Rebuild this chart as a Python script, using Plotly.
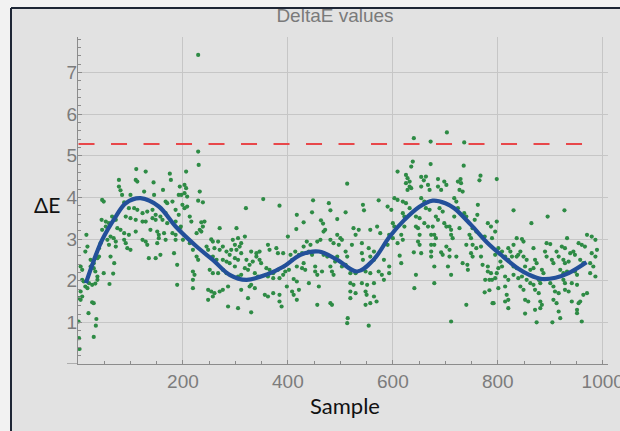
import plotly.graph_objects as go

# DeltaE readings (sample number, DeltaE), grouped by sample range
pts_0_190 = [(111,4.68),(129,4.62),(110,4.42),(113,4.38),(78,4.42),(78,4.26),(81,4.17),(144,4.36),(175,4.57),(177,4.42),(162,4.18),(46,3.94),(49,3.90),(84,4.06),(100,4.06),(126,4.14),(145,4.06),(167,3.90),(170,3.86),(192,4.06),(180,3.90),(88,3.88),(97,3.74),(107,3.74),(113,3.70),(123,3.62),(132,3.66),(142,3.70),(148,3.58),(157,3.54),(167,3.62),(186,3.70),(192,3.58),(45,3.46),(53,3.42),(59,3.38),(65,3.54),(72,3.46),(91,3.54),(100,3.50),(110,3.46),(123,3.42),(129,3.42),(142,3.50),(148,3.46),(161,3.46),(170,3.38),(186,3.42),(196,3.30),(53,3.30),(46,3.22),(75,3.26),(81,3.22),(88,3.14),(97,3.10),(110,3.18),(138,3.22),(151,3.18),(154,3.10),(164,3.14),(180,3.14),(186,3.10),(16,3.10),(62,3.06),(68,3.02),(72,2.94),(56,2.98),(88,2.98),(91,2.90),(123,2.98),(129,2.94),(132,2.86),(94,2.78),(100,2.74),(154,3.02),(151,2.90),(167,2.98),(186,2.98),(43,2.90),(40,2.78),(18,2.82),(14,2.70),(72,2.82),(59,2.86),(183,2.66),(135,2.54),(148,2.54),(157,2.62),(189,2.38),(40,2.58),(62,2.58),(24,2.50),(30,2.42),(37,2.54),(69,2.42),(5,2.34),(8,2.26),(24,2.34),(30,2.30),(49,2.18),(67,2.17),(33,2.22),(37,2.10),(8,2.02),(11,1.98),(21,1.94),(27,1.90),(33,1.93),(37,2.02),(60,1.92),(14,1.86),(18,1.82),(5,1.74),(2,1.58),(5,1.54),(8,1.62),(27,1.48),(30,1.46),(20,1.22),(35,1.08),(34,0.92),(1,1.02),(2,0.62),(3,0.36),(30,0.65),(189,1.90)]

pts_190_395 = [(229,7.42),(229,5.10),(230,4.78),(206,4.62),(194,4.26),(203,4.30),(206,4.22),(197,4.06),(203,4.10),(208,4.02),(199,3.82),(203,3.74),(208,3.78),(232,4.14),(229,3.92),(238,3.88),(353,3.96),(320,3.74),(384,3.80),(213,3.54),(216,3.42),(235,3.40),(238,3.30),(232,3.22),(241,3.42),(226,3.14),(235,3.18),(270,3.26),(302,3.26),(254,2.99),(257,2.94),(267,2.94),(295,2.98),(305,3.02),(318,3.06),(311,2.90),(299,2.86),(308,2.82),(213,2.90),(219,2.74),(245,2.82),(248,2.74),(260,2.78),(270,2.74),(276,2.82),(283,2.70),(289,2.62),(292,2.74),(302,2.74),(311,2.66),(330,2.70),(340,2.66),(346,2.70),(362,2.86),(365,2.74),(378,2.78),(381,2.66),(391,2.66),(226,2.58),(229,2.50),(257,2.58),(264,2.50),(276,2.50),(283,2.46),(289,2.42),(299,2.54),(305,2.50),(299,2.34),(321,2.50),(327,2.38),(333,2.46),(340,2.58),(346,2.50),(349,2.42),(359,2.30),(365,2.26),(372,2.18),(381,2.26),(318,2.30),(324,2.26),(251,2.26),(257,2.18),(267,2.18),(276,2.26),(283,2.18),(219,2.22),(222,2.14),(219,2.02),(305,2.10),(311,2.14),(337,2.18),(343,2.10),(362,2.10),(372,2.06),(384,2.06),(391,2.14),(219,1.82),(248,1.78),(254,1.74),(260,1.70),(270,1.74),(276,1.78),(286,1.86),(311,1.78),(327,1.86),(330,1.90),(337,1.82),(356,1.66),(362,1.62),(372,1.70),(384,1.66),(248,1.54),(257,1.62),(286,1.38),(305,1.34),(324,1.58),(330,1.24),(384,1.50),(388,1.38),(194,3.26),(200,2.98)]

pts_390_590 = [(513,4.33),(448,3.93),(478,3.86),(543,3.82),(545,3.69),(573,3.93),(417,3.58),(446,3.64),(481,3.69),(510,3.64),(494,3.48),(430,3.40),(416,3.24),(463,3.45),(467,3.37),(471,3.22),(468,3.18),(525,3.26),(535,3.22),(557,3.22),(570,3.30),(576,3.14),(400,3.06),(494,3.10),(500,3.02),(529,3.10),(436,2.94),(443,2.86),(430,2.82),(456,2.94),(462,2.98),(481,2.98),(487,2.90),(497,2.86),(503,2.98),(522,2.86),(541,2.90),(554,2.78),(564,2.70),(414,2.70),(421,2.62),(427,2.66),(405,2.62),(408,2.50),(440,2.70),(446,2.62),(468,2.62),(475,2.58),(494,2.58),(490,2.46),(510,2.70),(513,2.58),(541,2.66),(543,2.50),(557,2.58),(564,2.50),(583,2.50),(392,2.34),(395,2.22),(402,2.26),(417,2.34),(427,2.30),(433,2.26),(430,2.42),(452,2.34),(452,2.22),(456,2.14),(465,2.22),(481,2.34),(484,2.22),(487,2.14),(503,2.34),(510,2.38),(519,2.18),(529,2.18),(548,2.22),(557,2.18),(573,2.22),(579,2.14),(583,2.02),(411,2.04),(417,1.98),(440,1.94),(519,1.94),(525,1.90),(541,1.94),(551,1.90),(564,1.94),(398,1.86),(408,1.74),(411,1.66),(421,1.78),(459,1.86),(519,1.74),(529,1.70),(548,1.74),(550,1.66),(564,1.62),(569,1.50),(417,1.54),(456,1.42),(481,1.46),(484,1.42),(519,1.58),(548,1.42),(557,1.46),(514,1.10),(513,0.98),(554,0.92)]

pts_590_790 = [(640,5.42),(703,5.56),(672,5.34),(736,5.32),(638,4.86),(635,4.74),(672,4.80),(735,4.76),(609,4.62),(625,4.54),(628,4.46),(632,4.38),(625,4.34),(654,4.49),(659,4.41),(663,4.50),(686,4.44),(698,4.38),(702,4.30),(724,4.38),(729,4.44),(730,4.34),(767,4.52),(765,4.41),(632,4.26),(635,4.22),(628,4.18),(654,4.26),(667,4.30),(670,4.18),(686,4.26),(692,4.18),(727,4.18),(733,4.14),(603,3.98),(609,3.94),(619,3.90),(625,3.86),(654,3.98),(660,3.90),(717,3.98),(721,3.90),(590,3.78),(597,3.70),(632,3.74),(663,3.74),(670,3.70),(689,3.74),(695,3.66),(724,3.74),(762,3.82),(619,3.62),(622,3.54),(644,3.54),(651,3.50),(682,3.54),(686,3.46),(717,3.54),(736,3.62),(740,3.54),(756,3.46),(761,3.58),(600,3.38),(603,3.30),(622,3.30),(644,3.30),(648,3.26),(660,3.38),(667,3.30),(676,3.30),(698,3.38),(702,3.30),(708,3.30),(711,3.22),(727,3.26),(752,3.26),(759,3.18),(781,3.38),(787,3.30),(593,3.10),(600,3.02),(616,3.10),(619,2.98),(651,3.10),(673,3.10),(679,3.10),(682,3.02),(711,3.10),(714,3.02),(746,3.10),(749,3.02),(775,3.06),(590,2.86),(609,2.90),(648,2.94),(651,2.86),(673,2.86),(679,2.86),(702,2.82),(708,2.74),(740,2.86),(752,2.86),(759,2.78),(768,2.82),(640,2.68),(654,2.66),(673,2.70),(692,2.68),(695,2.62),(708,2.58),(721,2.58),(749,2.66),(752,2.58),(613,2.60),(679,2.34),(673,2.58),(733,2.42),(742,2.38),(743,2.26),(705,2.34),(768,2.58),(771,2.38),(781,2.34),(781,2.22),(787,2.18),(616,2.42),(593,2.34),(593,2.18),(644,2.14),(711,2.14),(776,2.02),(784,2.02),(679,1.94),(641,1.82),(775,1.72),(784,1.77),(790,1.46),(740,1.42),(711,1.02)]

pts_790_990 = [(798,4.44),(830,3.69),(864,3.38),(895,3.54),(927,3.69),(798,3.42),(795,3.18),(789,3.02),(836,3.02),(846,3.00),(830,2.86),(849,2.94),(932,3.02),(970,3.10),(979,3.06),(986,2.98),(893,2.90),(900,2.88),(922,2.82),(928,2.78),(954,2.90),(960,2.86),(966,2.82),(868,2.78),(801,2.78),(808,2.70),(820,2.78),(824,2.70),(843,2.70),(890,2.70),(893,2.58),(912,2.70),(916,2.58),(938,2.66),(944,2.70),(947,2.62),(979,2.66),(986,2.58),(989,2.74),(795,2.62),(814,2.58),(820,2.50),(827,2.58),(836,2.58),(839,2.62),(849,2.58),(855,2.50),(871,2.50),(874,2.42),(903,2.50),(906,2.42),(925,2.50),(928,2.42),(935,2.46),(957,2.50),(963,2.42),(976,2.42),(982,2.34),(805,2.46),(808,2.34),(801,2.30),(830,2.34),(836,2.30),(852,2.34),(862,2.26),(868,2.30),(884,2.26),(887,2.18),(919,2.26),(925,2.18),(932,2.22),(947,2.22),(951,2.14),(976,2.18),(986,2.10),(789,2.02),(795,2.06),(798,2.18),(814,2.10),(820,2.02),(830,2.14),(839,2.06),(846,2.10),(855,2.02),(862,1.94),(868,1.90),(878,2.02),(881,1.94),(900,1.94),(906,1.86),(925,2.02),(928,1.94),(941,1.94),(951,1.90),(801,1.82),(814,1.86),(843,1.86),(849,1.78),(871,1.78),(878,1.70),(909,1.74),(916,1.70),(928,1.78),(935,1.74),(963,1.66),(970,1.70),(817,1.66),(820,1.54),(814,1.50),(852,1.54),(858,1.50),(881,1.50),(884,1.42),(906,1.54),(912,1.46),(941,1.50),(954,1.46),(957,1.50),(792,1.46),(820,1.34),(871,1.30),(881,1.34),(916,1.26),(919,1.10),(951,1.30),(951,1.22),(852,1.21),(874,1.00),(904,1.00),(960,1.02)]

# smoothed trend through the readings
trend_x = [15, 30, 46, 72, 91, 119, 154, 186, 226, 257, 289, 321, 360, 392, 424, 459, 494, 532, 563, 594, 622, 650, 676, 700, 717, 749, 781, 810, 840, 860, 884, 910, 935, 969]
trend_y = [1.94, 2.48, 2.98, 3.54, 3.86, 3.98, 3.78, 3.30, 2.82, 2.50, 2.14, 2.02, 2.15, 2.34, 2.62, 2.70, 2.50, 2.22, 2.50, 3.06, 3.46, 3.77, 3.92, 3.86, 3.74, 3.34, 2.90, 2.58, 2.28, 2.14, 2.04, 2.07, 2.18, 2.44]

# tolerance threshold
limit_value = 5.28
limit_span = [1, 985]

x_ticks = [200, 400, 600, 800, 1000]
y_ticks = [1, 2, 3, 4, 5, 6, 7]

points = pts_0_190 + pts_190_395 + pts_390_590 + pts_590_790 + pts_790_990
sample_no = [p[0] for p in points]
delta_e = [p[1] for p in points]

BG = "#e2e2e2"
GRID = "#c6c6c6"
AXIS = "#8c8c8c"
LABEL = "#7c7c7c"

fig = go.Figure()
fig.add_trace(go.Scatter(
    x=sample_no, y=delta_e, mode="markers",
    marker=dict(size=4.2, color="#2e8b45", line=dict(width=0)),
    hoverinfo="skip", showlegend=False))
fig.add_trace(go.Scatter(
    x=limit_span, y=[limit_value, limit_value], mode="lines",
    line=dict(color="#e8474a", width=2, dash="16px,16.5px"),
    hoverinfo="skip", showlegend=False))
fig.add_trace(go.Scatter(
    x=trend_x, y=trend_y, mode="lines",
    line=dict(color="#23509a", width=4.2, shape="spline", smoothing=1.0),
    hoverinfo="skip", showlegend=False))

plot_w = 620 - 78 - 12
plot_h = 431 - 37 - 67


def px_x(px):
    return (px - 78) / plot_w


def px_y(py):
    return (364 - py) / plot_h


axis_common = dict(
    automargin=False,
    ticks="inside", ticklen=4, tickcolor=AXIS, showgrid=True, gridcolor=GRID,
    gridwidth=1, showline=True, linecolor=AXIS, linewidth=1.2, zeroline=False,
    tickfont=dict(size=19, color=LABEL),
)

fig.update_layout(
    width=620, height=431,
    margin=dict(l=78, r=12, t=37, b=67, autoexpand=False),
    paper_bgcolor=BG, plot_bgcolor=BG,
    font=dict(family="Liberation Sans, Arial, sans-serif", color=LABEL, size=19),
    title=dict(text="DeltaE values", x=335 / 620, xanchor="center",
               y=1 - 15 / 431, yanchor="middle", automargin=False,
               font=dict(family="Liberation Sans, Arial, sans-serif", size=19, color="#7a7a7a")),
    xaxis=dict(range=[0, 1010], tickvals=x_ticks, ticklabeloverflow="allow",
               minor=dict(tickmode="linear", tick0=0, dtick=50, ticks="inside",
                          ticklen=2.5, tickcolor=AXIS, showgrid=False),
               **axis_common),
    yaxis=dict(range=[0, 7.85], tickvals=y_ticks, ticklabelstandoff=-4,
               minor=dict(tickmode="linear", tick0=0, dtick=0.2, ticks="inside",
                          ticklen=2.5, tickcolor=AXIS, showgrid=False),
               **axis_common),
    annotations=[
        dict(text="ΔE", x=px_x(47), y=px_y(204), xref="paper", yref="paper",
             showarrow=False, xanchor="center", yanchor="middle",
             font=dict(family="Lato, Open Sans, sans-serif", size=21, color="#111111")),
        dict(text="Sample", x=px_x(345), y=px_y(405), xref="paper", yref="paper",
             showarrow=False, xanchor="center", yanchor="middle",
             font=dict(family="Lato, Open Sans, sans-serif", size=22, color="#111111")),
    ],
    shapes=[
        # x axis continues a little to the left of the vertical axis
        dict(type="line", xref="paper", yref="y", x0=px_x(67), x1=0, y0=0, y1=0,
             line=dict(color=AXIS, width=1.2)),
        # light outer margin and dark frame on the left and top
        dict(type="rect", xref="paper", yref="paper", x0=px_x(0), x1=px_x(11),
             y0=px_y(431), y1=px_y(0), fillcolor="#f2f2f2", line=dict(width=0)),
        dict(type="rect", xref="paper", yref="paper", x0=px_x(0), x1=px_x(620),
             y0=px_y(8), y1=px_y(0), fillcolor="#f2f2f2", line=dict(width=0)),
        dict(type="line", xref="paper", yref="paper", x0=px_x(11), x1=px_x(11),
             y0=px_y(431), y1=px_y(8), line=dict(color="#1e2635", width=2)),
        dict(type="line", xref="paper", yref="paper", x0=px_x(11), x1=px_x(620),
             y0=px_y(8), y1=px_y(8), line=dict(color="#1e2635", width=2)),
    ],
)

fig.write_html("out.html")
